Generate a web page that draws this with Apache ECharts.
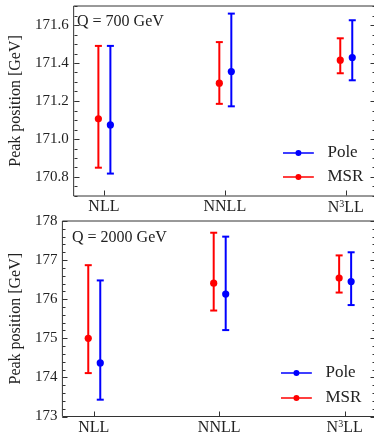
<!DOCTYPE html>
<html>
<head>
<meta charset="utf-8">
<script src="https://cdn.jsdelivr.net/npm/echarts@6/dist/echarts.min.js"></script>
<style>
  html, body { margin: 0; padding: 0; overflow: hidden; background: #fff; }
  #chart { width: 376px; height: 436px; }
</style>
</head>
<body>
<div id="chart"></div>
<script>
// perturbative orders on the x axis
const levels = ['NLL', 'NNLL', 'N{sup|3}LL']

// [peak, low, high] per order
const pole700 = [[171.074, 170.818, 171.49], [171.355, 171.172, 171.66], [171.429, 171.309, 171.625]]
const msr700 = [[171.106, 170.849, 171.49], [171.294, 171.185, 171.51], [171.415, 171.346, 171.53]]
const pole2000 = [[174.37, 173.43, 176.48], [176.13, 175.21, 177.60], [176.45, 175.85, 177.20]]
const msr2000 = [[175.0, 174.11, 176.87], [176.41, 175.71, 177.70], [176.54, 176.17, 177.12]]

const ticks700 = [170.8, 171.0, 171.2, 171.4, 171.6]
const ticks2000 = [173, 174, 175, 176, 177, 178]
const levelTicks = [0, 1, 2]

const RED = '#ff0000'
const BLUE = '#0000ff'
const FONT = 'Liberation Serif'
const INK = '#222'
const SPINE = '#333'

function errorBars(dx, color) {
  return function (params, api) {
    const c = api.coord([api.value(0), api.value(1)])
    const lo = api.coord([api.value(0), api.value(2)])
    const hi = api.coord([api.value(0), api.value(3)])
    const x = c[0] + dx
    const st = { stroke: color, lineWidth: 2 }
    return {
      type: 'group',
      children: [
        { type: 'line', shape: { x1: x, y1: lo[1], x2: x, y2: hi[1] }, style: st },
        { type: 'line', shape: { x1: x - 3.5, y1: lo[1], x2: x + 3.5, y2: lo[1] }, style: st },
        { type: 'line', shape: { x1: x - 3.5, y1: hi[1], x2: x + 3.5, y2: hi[1] }, style: st },
        { type: 'circle', shape: { cx: x, cy: c[1], r: 3.6 }, style: { fill: color } },
      ],
    }
  }
}

// inward ticks on all four sides, placed through the axis scales
function tickMarks(majors, minorStep, yMin, yMax) {
  return function (params, api) {
    const cs = params.coordSys
    const left = Math.round(cs.x) + 0.5
    const right = Math.round(cs.x + cs.width) - 0.5
    const bottom = Math.round(cs.y + cs.height) - 0.5
    const st = { stroke: SPINE, lineWidth: 1 }
    const kids = []
    const yTick = (v, len) => {
      const y = Math.round(api.coord([0, v])[1]) + 0.5
      kids.push({ type: 'line', shape: { x1: left, y1: y, x2: left + len, y2: y }, style: st })
      kids.push({ type: 'line', shape: { x1: right, y1: y, x2: right - len, y2: y }, style: st })
    }
    const n = Math.round((yMax - yMin) / minorStep)
    for (let i = 0; i <= n; i++) yTick(yMin + i * minorStep, 3)
    majors.forEach(v => yTick(v, 5))
    levelTicks.forEach(v => {
      const x = Math.round(api.coord([v, yMin])[0]) + 0.5
      kids.push({ type: 'line', shape: { x1: x, y1: bottom, x2: x, y2: bottom - 5 }, style: st })
    })
    return { type: 'group', children: kids }
  }
}

const toData = arr => arr.map((v, i) => [i, v[0], v[1], v[2]])

function xAxisFor(gi) {
  return {
    type: 'value', gridIndex: gi, min: -0.25, max: 2.25,
    axisLine: { show: false, onZero: false }, splitLine: { show: false },
    axisTick: { show: false },
    axisLabel: {
      customValues: levelTicks, margin: 3, color: INK, fontFamily: FONT, fontSize: 16,
      formatter: v => levels[v],
      rich: { sup: { fontSize: 10, fontFamily: FONT, color: INK, verticalAlign: 'top', padding: [0, 0, 7, 0] } },
    },
  }
}

function yAxisFor(gi, min, max, majors, decimals, nameGap) {
  return {
    type: 'value', gridIndex: gi, min, max, position: 'left',
    axisLine: { show: false, onZero: false }, splitLine: { show: false }, axisTick: { show: false },
    axisLabel: { customValues: majors, margin: 5, color: INK, fontFamily: FONT, fontSize: 15, formatter: v => v.toFixed(decimals) },
    name: 'Peak position [GeV]', nameLocation: 'middle', nameGap,
    nameTextStyle: { color: INK, fontFamily: FONT, fontSize: 16 },
  }
}

const legendIcon = 'path://M0,2.2 L36,2.2 L36,3.8 L0,3.8 Z M14.5,3 A3.5,3.5 0 1 1 21.5,3 A3.5,3.5 0 1 1 14.5,3 Z'

function legendAt(left, top, gap) {
  return {
    orient: 'vertical', left, top, itemGap: gap, itemWidth: 36, itemHeight: 6,
    icon: legendIcon, data: ['Pole', 'MSR'],
    textStyle: { color: INK, fontFamily: FONT, fontSize: 17, lineHeight: 18, padding: [0, 0, 0, 6] },
  }
}

function seriesFor(gi, pole, msr, majors, minorStep, yMin, yMax) {
  return [
    { type: 'custom', name: 'ticks' + gi, xAxisIndex: gi, yAxisIndex: gi, data: [[0, yMin]], silent: true, z: 1,
      renderItem: tickMarks(majors, minorStep, yMin, yMax) },
    { type: 'custom', name: 'Pole', xAxisIndex: gi, yAxisIndex: gi, data: toData(pole),
      itemStyle: { color: BLUE }, renderItem: errorBars(6.5, BLUE) },
    { type: 'custom', name: 'MSR', xAxisIndex: gi, yAxisIndex: gi, data: toData(msr),
      itemStyle: { color: RED }, renderItem: errorBars(-5.5, RED) },
  ]
}

const chart = echarts.init(document.getElementById('chart'))
chart.setOption({
  animation: false,
  title: [
    { text: 'Q = 700 GeV', left: 72, top: 9, textStyle: { color: INK, fontFamily: FONT, fontSize: 16, fontWeight: 'normal' } },
    { text: 'Q = 2000 GeV', left: 67, top: 225, textStyle: { color: INK, fontFamily: FONT, fontSize: 16, fontWeight: 'normal' } },
  ],
  legend: [legendAt(278, 139, 6), legendAt(276, 359, 7)],
  grid: [
    { left: 69, right: 0, top: 6, height: 190, show: true, borderColor: SPINE, borderWidth: 1 },
    { left: 58, right: 0, top: 221, height: 197, show: true, borderColor: SPINE, borderWidth: 1 },
  ],
  xAxis: [xAxisFor(0), xAxisFor(1)],
  yAxis: [
    yAxisFor(0, 170.7, 171.7, ticks700, 1, 44),
    yAxisFor(1, 173, 178, ticks2000, 0, 34),
  ],
  series: [
    ...seriesFor(0, pole700, msr700, ticks700, 0.05, 170.7, 171.7),
    ...seriesFor(1, pole2000, msr2000, ticks2000, 0.2, 173, 178),
  ],
})
</script>
</body>
</html>
